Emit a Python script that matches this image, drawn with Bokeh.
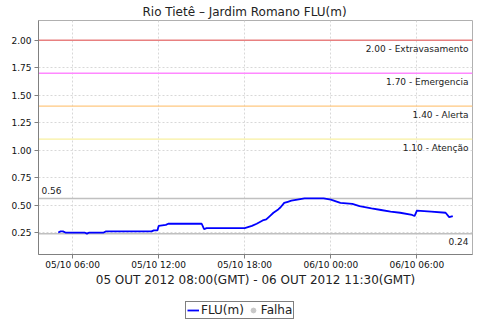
import pandas as pd
from bokeh.plotting import figure
from bokeh.layouts import column
from bokeh.models import (Range1d, FixedTicker, DatetimeTickFormatter, Span,
                          ColumnDataSource, Legend, LegendItem, PrintfTickFormatter)
from bokeh.core.properties import value
from bokeh.embed import file_html
from bokeh.resources import INLINE

# ---------------- data (local time, GMT-3) ----------------
times = [
    "2012-10-05 05:00", "2012-10-05 05:10", "2012-10-05 05:20", "2012-10-05 05:30",
    "2012-10-05 06:50", "2012-10-05 07:00", "2012-10-05 07:10", "2012-10-05 08:10",
    "2012-10-05 08:20", "2012-10-05 11:30", "2012-10-05 11:40", "2012-10-05 11:55",
    "2012-10-05 12:00", "2012-10-05 12:30", "2012-10-05 12:40", "2012-10-05 15:00",
    "2012-10-05 15:10", "2012-10-05 15:20", "2012-10-05 18:00", "2012-10-05 18:30",
    "2012-10-05 18:50", "2012-10-05 19:15", "2012-10-05 19:30", "2012-10-05 19:45",
    "2012-10-05 20:00", "2012-10-05 20:20", "2012-10-05 20:30", "2012-10-05 20:45",
    "2012-10-05 21:00", "2012-10-05 21:15", "2012-10-05 21:40", "2012-10-05 22:10",
    "2012-10-05 23:30", "2012-10-06 00:00", "2012-10-06 00:40", "2012-10-06 01:30",
    "2012-10-06 02:00", "2012-10-06 02:50", "2012-10-06 03:30", "2012-10-06 04:10",
    "2012-10-06 04:50", "2012-10-06 05:40", "2012-10-06 05:50", "2012-10-06 06:00",
    "2012-10-06 07:00", "2012-10-06 08:00", "2012-10-06 08:15", "2012-10-06 08:30",
]
levels = [
    0.25, 0.26, 0.26, 0.25,
    0.25, 0.24, 0.25, 0.25,
    0.26, 0.26, 0.27, 0.27,
    0.31, 0.32, 0.33, 0.33,
    0.28, 0.29, 0.29, 0.31,
    0.33, 0.36, 0.37, 0.40,
    0.43, 0.46, 0.48, 0.52,
    0.53, 0.54, 0.55, 0.56,
    0.56, 0.55, 0.52, 0.51,
    0.49, 0.47, 0.455, 0.44,
    0.43, 0.41, 0.40, 0.45,
    0.44, 0.43, 0.39, 0.40,
]

threshold_values = [2.00, 1.70, 1.40, 1.10]
threshold_names = ["Extravasamento", "Emergencia", "Alerta", "Atenção"]
threshold_colors = ["#E88080", "#FF88FF", "#FFC880", "#F8F0A0"]

y_ticks = [0.25, 0.50, 0.75, 1.00, 1.25, 1.50, 1.75, 2.00]
x_tick_labels = ["2012-10-05 06:00", "2012-10-05 12:00", "2012-10-05 18:00",
                 "2012-10-06 00:00", "2012-10-06 06:00"]

title_text = "Rio Tietê – Jardim Romano FLU(m)"
x_label = "05 OUT 2012 08:00(GMT) - 06 OUT 2012 11:30(GMT)"
series_label = "FLU(m)"
fail_label = "Falha"

# ---------------- build ----------------
x = pd.to_datetime(times)
span_t = x.max() - x.min()
x_start = x.min() - 0.05 * span_t
x_end = x.max() + 0.05 * span_t

FONT = "DejaVu Sans"
LINE_COLOR = "#0000FF"
FAIL_COLOR = "#C8C8C8"

p = figure(width=480, height=300, x_axis_type="datetime",
           x_range=Range1d(x_start, x_end), y_range=Range1d(0.05, 2.18),
           output_backend="svg", toolbar_location=None,
           min_border_left=38, min_border_right=8, min_border_top=19,
           min_border_bottom=46)

p.title.text = title_text
p.title.align = "left"
p.title.offset = 104
p.title.text_font = FONT
p.title.text_font_size = "12px"
p.title.text_font_style = "normal"
p.title.text_color = "#222222"
p.title.standoff = 4

p.background_fill_color = "white"
p.border_fill_color = "white"
p.outline_line_color = "#B0B0B0"

# grids
for g in (p.xgrid, p.ygrid):
    g.grid_line_color = "#D8D8D8"
    g.grid_line_dash = "2 2"
    g.grid_line_width = 1

# axes
p.yaxis.ticker = FixedTicker(ticks=y_ticks)
p.yaxis.formatter = PrintfTickFormatter(format="%.2f")
xt = [pd.Timestamp(s).value / 1e6 for s in x_tick_labels]
p.xaxis.ticker = FixedTicker(ticks=xt)
fmt = "%d/%m %H:%M"
p.xaxis.formatter = DatetimeTickFormatter(hours=fmt, hourmin=fmt, days=fmt,
                                          minutes=fmt, minsec=fmt, months=fmt)
p.xaxis.axis_label = x_label
p.xaxis.axis_label_text_font = FONT
p.xaxis.axis_label_text_font_size = "12px"
p.xaxis.axis_label_text_font_style = "normal"
p.xaxis.axis_label_text_color = "#222222"

for ax in (p.xaxis, p.yaxis):
    ax.major_label_text_font = FONT
    ax.major_label_text_font_size = "9px"
    ax.major_label_text_color = "#111111"
    ax.axis_line_color = "#808080"
    ax.major_tick_line_color = "#808080"
    ax.major_tick_out = 4
    ax.major_tick_in = 0
    ax.minor_tick_line_color = None
p.yaxis.major_label_standoff = 3
p.xaxis.major_label_standoff = 1
p.xaxis.axis_label_standoff = 0

# threshold lines
for v, c in zip(threshold_values, threshold_colors):
    p.add_layout(Span(location=v, dimension="width", line_color=c,
                      line_width=1.3, level="underlay"))

vmax = max(levels)
vmin = min(levels)
for v in (vmax, vmin):
    p.add_layout(Span(location=v, dimension="width", line_color="#C0C0C0",
                      line_width=1.5, level="underlay"))

# threshold labels
lab = ColumnDataSource(dict(
    x=[x_end] * len(threshold_values),
    y=threshold_values,
    t=[f"{v:.2f} - {n}" for v, n in zip(threshold_values, threshold_names)],
))
p.text(x="x", y="y", text="t", source=lab, text_align="right",
       text_baseline="middle", x_offset=-4, y_offset=9,
       text_font=value(FONT), text_font_size="9px", text_color="#222222")

p.text(x=[x_start], y=[vmax], text=[f"{vmax:.2f}"], text_align="left",
       text_baseline="middle", x_offset=3, y_offset=-8,
       text_font=value(FONT), text_font_size="9px", text_color="#222222")
p.text(x=[x_end], y=[vmin], text=[f"{vmin:.2f}"], text_align="right",
       text_baseline="middle", x_offset=-4, y_offset=8,
       text_font=value(FONT), text_font_size="9px", text_color="#222222")

# series
src = ColumnDataSource(dict(x=x, y=levels))
p.line(x="x", y="y", source=src, line_color=LINE_COLOR, line_width=1.8)

# ---------------- legend strip (separate small figure) ----------------
lf = figure(width=480, height=20, x_range=Range1d(0, 1), y_range=Range1d(0, 1),
            output_backend="svg", toolbar_location=None,
            min_border_left=38, min_border_right=8, min_border_top=0,
            min_border_bottom=0)
lf.axis.visible = False
lf.grid.visible = False
lf.outline_line_color = None
lf.border_fill_color = "white"
# legend-only renderers: their points lie outside the strip's ranges
lr = lf.line(x=[-10, -9], y=[-10, -10], line_color=LINE_COLOR, line_width=1.8)
ls = lf.scatter(x=[-10], y=[-10], marker="circle", size=8,
                fill_color=FAIL_COLOR, line_color=FAIL_COLOR)
legend = Legend(items=[LegendItem(label=series_label, renderers=[lr]),
                       LegendItem(label=fail_label, renderers=[ls])],
                orientation="horizontal", location=(147, 1))
legend.label_text_font = FONT
legend.label_text_font_size = "12px"
legend.label_text_color = "#222222"
legend.border_line_color = "black"
legend.border_line_width = 1
legend.padding = 1
legend.spacing = 3
legend.margin = 0
legend.glyph_width = 12
legend.glyph_height = 12
legend.label_standoff = 2
legend.label_height = 12
legend.background_fill_alpha = 1
lf.add_layout(legend, "center")

layout = column(p, lf, spacing=0)
open("out.html", "w").write(file_html(layout, INLINE))
